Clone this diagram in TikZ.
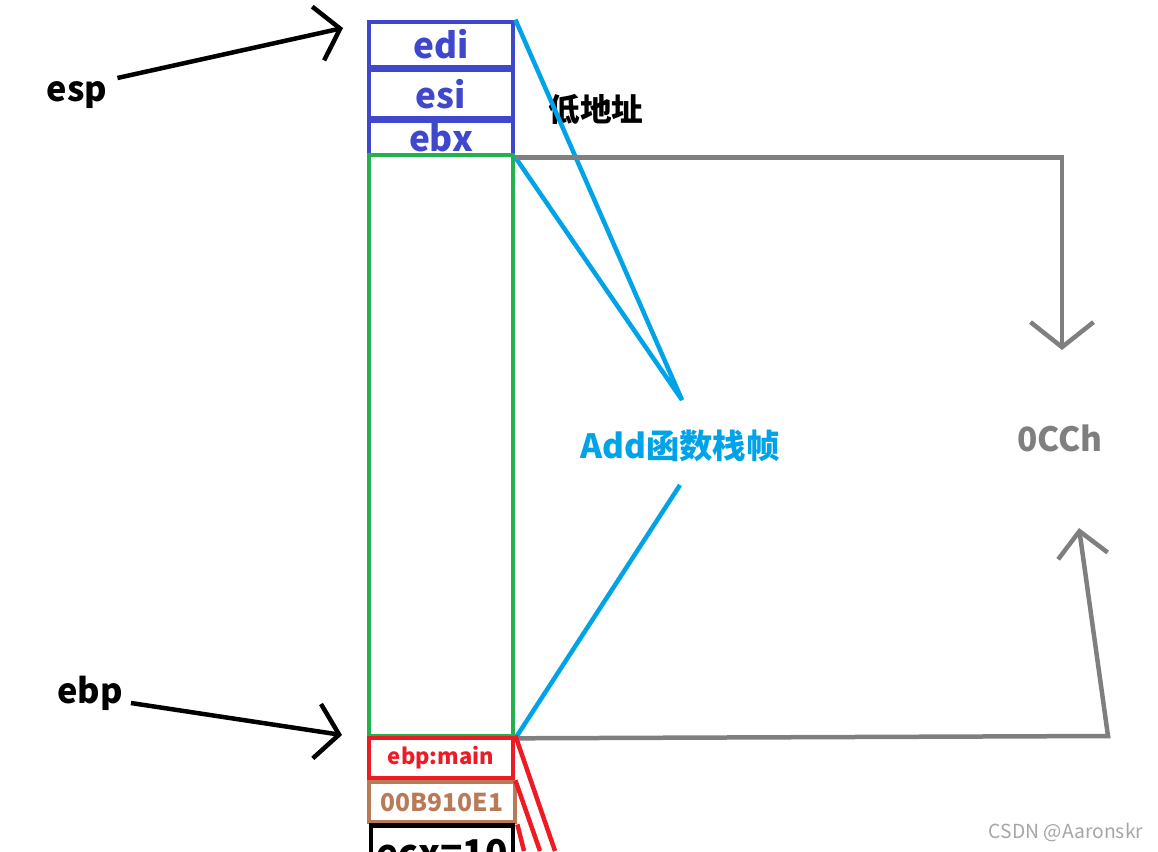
\documentclass[tikz,border=0pt]{standalone}
\usepackage{fontspec}
\setmainfont{Noto Sans CJK SC}
\usepackage{tikz}
\usetikzlibrary{arrows.meta}
\definecolor{regblue}{HTML}{3F48CC}
\definecolor{framegreen}{HTML}{22B14C}
\definecolor{retred}{HTML}{ED1C24}
\definecolor{addrbrown}{HTML}{B97A57}
\definecolor{framecyan}{HTML}{00A2E8}
\definecolor{sizegray}{HTML}{7F7F7F}
\tikzset{
  slot/.style={draw, rectangle, line width=0.095cm, inner sep=0pt, minimum width=2.88cm, font=\bfseries},
  reg/.style={font=\fontsize{19.5}{19.5}\selectfont\bfseries},
  barb/.style={-{Straight Barb[length=0.45cm,width=1.1cm]}, line width=0.09cm}
}
\begin{document}
\begin{tikzpicture}[x=0.02cm, y=-0.02cm]
            \useasboundingbox (0,0) rectangle (1158,851);
            \clip (0,0) rectangle (1158,851);
            \node[slot, regblue, minimum height=0.9cm, font=\fontsize{20}{20}\selectfont\bfseries] (edi) at (441,44.5) {edi};
            \node[slot, regblue, minimum height=0.96cm, font=\fontsize{20}{20}\selectfont\bfseries] (esi) at (441,94) {esi};
            \node[slot, regblue, minimum height=0.68cm, font=\fontsize{20}{20}\selectfont\bfseries] (ebx) at (441,138) {ebx};
            \node[slot, framegreen, minimum height=11.62cm] (frame) at (441,445.5) {};
            \node[slot, retred, minimum height=0.8cm, font=\fontsize{12.5}{12.5}\selectfont\bfseries] (oldebp) at (441,758) {ebp:main};
            \node[slot, addrbrown, minimum height=0.8cm, minimum width=2.92cm, font=\fontsize{14}{14}\selectfont\bfseries] (retaddr) at (442,802) {00B910E1};
            \node[slot, black, minimum height=1.1cm, minimum width=2.84cm, font=\fontsize{21}{21}\selectfont\bfseries] (ecx) at (442,853) {ecx=10};
            \node[reg] (esp) at (77,95) {esp};
            \node[reg] (ebp) at (90,693) {ebp};
            \node[font=\fontsize{18}{18}\selectfont\bfseries] (low) at (596,110) {低地址};
            \node[framecyan, font=\fontsize{19}{19}\selectfont\bfseries] (add) at (680,446) {Add函数栈帧};
            \node[sizegray, font=\fontsize{19}{19}\selectfont\bfseries] (size) at (1060,438) {0CCh};
            \node[gray!70, font=\fontsize{11}{11}\selectfont] (mark) at (1066,832) {CSDN @Aaronskr};
            \coordinate (espTip) at (343,28);
            \coordinate (ebpTip) at (342,735);
            \coordinate (addTop) at (682,400);
            \coordinate (addBot) at (680,485);
            \coordinate (sizeTop) at (1062,350);
            \coordinate (sizeCorner) at (1108,736);
            \coordinate (sizeBot) at (1079,528);
            \draw[barb] (esp.east) ++(4,-17) -- (espTip);
            \draw[barb] (ebp.east) ++(2,10) -- (ebpTip);
            \draw[framecyan, line width=0.09cm] (edi.north east) -- (addTop) -- (ebx.south east);
            \draw[framecyan, line width=0.09cm] (frame.south east) -- (addBot);
            \draw[sizegray, line width=0.09cm, -{Straight Barb[length=0.5cm,width=1.26cm]}] (ebx.south east) -| (sizeTop);
            \draw[sizegray, line width=0.09cm, -{Straight Barb[length=0.5cm,width=1.0cm]}] (frame.south east) -- (sizeCorner) -- (sizeBot);
            \draw[retred, line width=0.09cm] (oldebp.north east) -- (555,851);
            \draw[retred, line width=0.09cm] (oldebp.south east) -- (540,851);
            \draw[retred, line width=0.09cm] (retaddr.south east) -- (524,851);
        \end{tikzpicture}
\end{document}
